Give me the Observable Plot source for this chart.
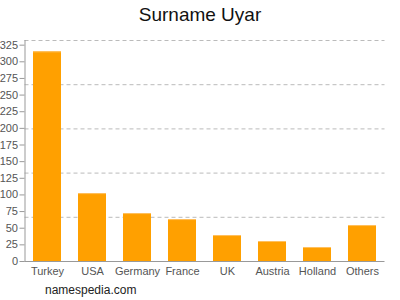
<!DOCTYPE html>
<html>
<head>
<meta charset="utf-8">
<script src="https://cdn.jsdelivr.net/npm/d3@7"></script>
<script src="https://cdn.jsdelivr.net/npm/@observablehq/plot@0.6"></script>
<style>
  html, body { margin: 0; padding: 0; background: #fff; }
  body { width: 400px; height: 300px; position: relative; overflow: hidden; font-family: "Liberation Sans", Arial, sans-serif; }
  #title { height: 30px; line-height: 30px; text-align: center; font-size: 19px; color: #111; }
  #footer { position: absolute; left: 45px; top: 283px; font-size: 12px; color: #222; }
</style>
</head>
<body>
<div id="title">Surname Uyar</div>
<div id="chart"></div>
<div id="footer">namespedia.com</div>
<script>
const countries = ["Turkey", "USA", "Germany", "France", "UK", "Austria", "Holland", "Others"];
const counts = [315, 102, 72, 63, 39, 30, 21, 54];
const yTicks = [0, 25, 50, 75, 100, 125, 150, 175, 200, 225, 250, 275, 300, 325];
const gridValues = [66.4, 132.8, 199.2, 265.6, 332];

const data = countries.map((c, i) => ({country: c, count: counts[i]}));

const chart = Plot.plot({
  width: 400,
  height: 252,
  marginTop: 10,
  marginBottom: 21,
  marginLeft: 24.5,
  marginRight: 15.5,
  style: {fontFamily: "Liberation Sans, Arial, sans-serif", fontSize: "11px", color: "#555", background: "#fff"},
  x: {domain: countries, paddingInner: 0.38, paddingOuter: 0.19, label: null},
  y: {domain: [0, 332], label: null},
  marks: [
    Plot.ruleY(gridValues, {stroke: "#bbb", strokeDasharray: "4,3", strokeWidth: 1}),
    Plot.barY(data, {x: "country", y: "count", fill: "#ffa000"}),
    Plot.tickY(data, {x: "country", y: "count", stroke: "#ffc060", strokeWidth: 1}),
    Plot.axisY({ticks: yTicks, tickSize: 5, tickPadding: 2, stroke: "#999", fill: "#555", fontSize: 11}),
    Plot.axisX({tickSize: 0, tickPadding: 6, fill: "#555", fontSize: 11}),
    Plot.frame({anchor: "left", stroke: "#999"}),
    Plot.ruleY([0], {stroke: "#999"})
  ]
});
document.getElementById("chart").appendChild(chart);
</script>
</body>
</html>
